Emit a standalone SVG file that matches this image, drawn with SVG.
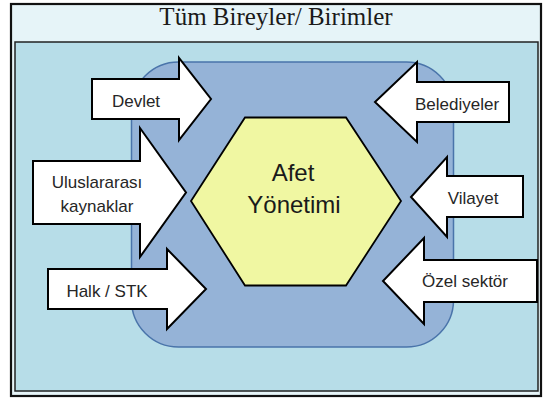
<svg xmlns="http://www.w3.org/2000/svg" width="543" height="398" viewBox="0 0 543 398">
<style>
.arrow{fill:#ffffff;stroke:#000000;stroke-width:2;stroke-linejoin:miter}
.lbl{font-family:"Liberation Sans",Arial,sans-serif;font-size:17px;fill:#262626;text-anchor:middle}
.big{font-family:"Liberation Sans",Arial,sans-serif;font-size:24px;fill:#1a1a1a;text-anchor:middle}
.title{font-family:"Liberation Serif","Times New Roman",serif;font-size:25px;fill:#1a1a1a;text-anchor:middle}
</style>
<g id="frame">
<rect x="11" y="4" width="530" height="392" fill="#e6f4f8" stroke="#111111" stroke-width="2.2"/>
<text class="title" x="276" y="25">Tüm Bireyler/ Birimler</text>
<rect x="15" y="42" width="523" height="349" fill="#b7dde8" stroke="#222222" stroke-width="1.5"/>
</g>
<g id="core-area">
<rect x="131.5" y="62" width="322" height="285" rx="47" ry="47" fill="#95b3d7" stroke="#4a74aa" stroke-width="1.5"/>
</g>
<g id="afet-yonetimi">
<polygon points="245,117.5 346,117.5 401,201 346,285.5 245,285.5 191,201" fill="#f0f7a2" stroke="#000000" stroke-width="1.8"/>
<text class="big" x="293" y="181">Afet</text>
<text class="big" x="294" y="213">Yönetimi</text>
</g>
<g id="devlet">
<path class="arrow" d="M92,79 H179 V58 L211,99 L179,140 V119 H92 Z"/>
<text class="lbl" x="136" y="107">Devlet</text>
</g>
<g id="uluslararasi">
<path class="arrow" d="M33,161 H140 V128 L186,192.5 L140,257 V224 H33 Z"/>
<text class="lbl" x="97" y="188">Uluslararası</text>
<text class="lbl" x="97" y="212">kaynaklar</text>
</g>
<g id="halk-stk">
<path class="arrow" d="M48,269 H167 V249 L206,289 L167,329 V309 H48 Z"/>
<text class="lbl" x="107" y="297">Halk / STK</text>
</g>
<g id="belediyeler">
<path class="arrow" d="M509,82 H417 V62 L375,102 L417,142 V122 H509 Z"/>
<text class="lbl" x="457" y="110">Belediyeler</text>
</g>
<g id="vilayet">
<path class="arrow" d="M523,176 H447 V157 L411,197 L447,237 V217 H523 Z"/>
<text class="lbl" x="473" y="204">Vilayet</text>
</g>
<g id="ozel-sektor">
<path class="arrow" d="M537,260 H424 V238 L383,281 L424,324 V302 H537 Z"/>
<text class="lbl" x="465" y="287">Özel sektör</text>
</g>
</svg>
